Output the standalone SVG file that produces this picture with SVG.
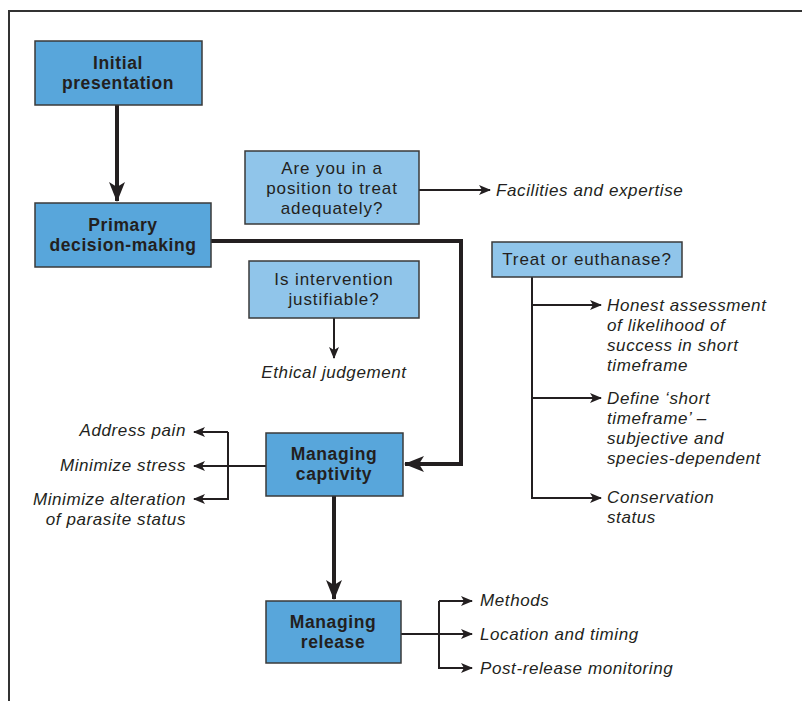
<svg xmlns="http://www.w3.org/2000/svg" width="802" height="701" viewBox="0 0 802 701">
<defs>
<style>
.frame{fill:none;stroke:#333;stroke-width:2}
.dark{fill:#58A6DB;stroke:#3a3a3a;stroke-width:1.5}
.light{fill:#90C5EA;stroke:#3a3a3a;stroke-width:1.5}
.bt{font-family:"Liberation Sans",Arial,sans-serif;font-weight:bold;font-size:17.5px;letter-spacing:0.6px;fill:#231F20;text-anchor:middle}
.lt{font-family:"Liberation Sans",Arial,sans-serif;font-size:17px;letter-spacing:0.9px;fill:#231F20;text-anchor:middle}
.it{font-family:"Liberation Sans",Arial,sans-serif;font-style:italic;font-size:17px;letter-spacing:0.6px;fill:#231F20}
.thick{fill:none;stroke:#231F20;stroke-width:4}
.thin{fill:none;stroke:#231F20;stroke-width:2}
</style>
<marker id="ah" viewBox="0 0 12 10" refX="11" refY="5" markerWidth="12" markerHeight="10" markerUnits="userSpaceOnUse" orient="auto">
<path d="M0,0 L12,5 L0,10 L3,5 Z" fill="#231F20"/>
</marker>
<marker id="ahb" viewBox="0 0 20 16" refX="19" refY="8" markerWidth="20" markerHeight="16" markerUnits="userSpaceOnUse" orient="auto">
<path d="M0,0 L20,8 L0,16 L5,8 Z" fill="#231F20"/>
</marker>
</defs>
<path class="frame" d="M9,701 V11 H802"/>
<g id="connectors">
<path class="thick" d="M117,105 V201" marker-end="url(#ahb)"/>
<path class="thick" d="M211,241 H461 V464 H405" marker-end="url(#ahb)"/>
<path class="thick" d="M334,496 V599" marker-end="url(#ahb)"/>
<path class="thin" d="M419,190 H490" marker-end="url(#ah)"/>
<path class="thin" d="M334,318 V358" marker-end="url(#ah)"/>
<path class="thin" d="M532,277 V498 H601" marker-end="url(#ah)"/>
<path class="thin" d="M532,305 H601" marker-end="url(#ah)"/>
<path class="thin" d="M532,398 H601" marker-end="url(#ah)"/>
<path class="thin" d="M266,466 H194" marker-end="url(#ah)"/>
<path class="thin" d="M228,432 H194" marker-end="url(#ah)"/>
<path class="thin" d="M228,432 V499 H194" marker-end="url(#ah)"/>
<path class="thin" d="M401,634 H472" marker-end="url(#ah)"/>
<path class="thin" d="M439,601 H472" marker-end="url(#ah)"/>
<path class="thin" d="M439,601 V668 H472" marker-end="url(#ah)"/>
</g>
<g id="initial">
<rect class="dark" x="35" y="41" width="167" height="64"/>
<text class="bt" x="118" y="69">Initial</text>
<text class="bt" x="118" y="89">presentation</text>
</g>
<g id="primary">
<rect class="dark" x="35" y="203" width="176" height="64"/>
<text class="bt" x="123" y="231">Primary</text>
<text class="bt" x="123" y="251">decision-making</text>
</g>
<g id="position">
<rect class="light" x="245" y="151" width="174" height="73"/>
<text class="lt" x="332" y="174">Are you in a</text>
<text class="lt" x="332" y="194">position to treat</text>
<text class="lt" x="332" y="214">adequately?</text>
</g>
<text class="it" x="496" y="196">Facilities and expertise</text>
<g id="justify">
<rect class="light" x="249" y="261" width="170" height="57"/>
<text class="lt" x="334" y="285">Is intervention</text>
<text class="lt" x="334" y="305">justifiable?</text>
</g>
<text class="it" x="334" y="378" text-anchor="middle">Ethical judgement</text>
<g id="treat">
<rect class="light" x="492" y="242" width="190" height="35"/>
<text class="lt" x="587" y="265">Treat or euthanase?</text>
</g>
<text class="it" x="607" y="311">Honest assessment</text>
<text class="it" x="607" y="331">of likelihood of</text>
<text class="it" x="607" y="351">success in short</text>
<text class="it" x="607" y="371">timeframe</text>
<text class="it" x="607" y="404">Define ‘short</text>
<text class="it" x="607" y="424">timeframe’ –</text>
<text class="it" x="607" y="444">subjective and</text>
<text class="it" x="607" y="464">species-dependent</text>
<text class="it" x="607" y="503">Conservation</text>
<text class="it" x="607" y="523">status</text>
<g id="captivity">
<rect class="dark" x="266" y="433" width="137" height="63"/>
<text class="bt" x="334" y="460">Managing</text>
<text class="bt" x="334" y="480">captivity</text>
</g>
<text class="it" x="186" y="436" text-anchor="end">Address pain</text>
<text class="it" x="186" y="471" text-anchor="end">Minimize stress</text>
<text class="it" x="186" y="505" text-anchor="end">Minimize alteration</text>
<text class="it" x="186" y="525" text-anchor="end">of parasite status</text>
<g id="release">
<rect class="dark" x="266" y="601" width="135" height="62"/>
<text class="bt" x="333" y="628">Managing</text>
<text class="bt" x="333" y="648">release</text>
</g>
<text class="it" x="480" y="606">Methods</text>
<text class="it" x="480" y="640">Location and timing</text>
<text class="it" x="480" y="674">Post-release monitoring</text>
</svg>
